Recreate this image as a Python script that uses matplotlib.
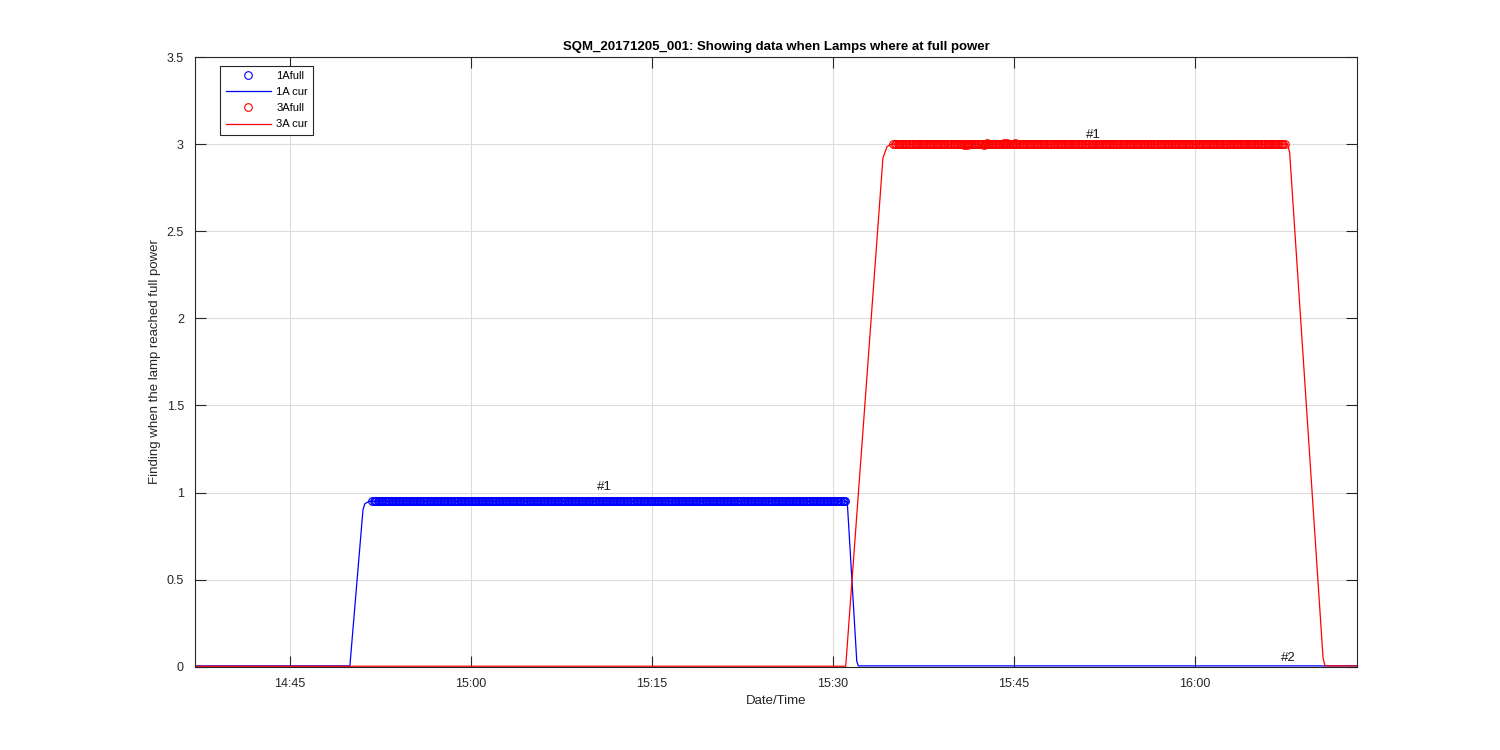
"""Lamp full-power check for SQM_20171205_001, redrawn in matplotlib."""
import numpy as np
import pandas as pd
import matplotlib
matplotlib.use('Agg')
import matplotlib.pyplot as plt
import matplotlib.dates as mdates

plt.rcParams['font.family'] = ['Liberation Sans', 'DejaVu Sans']

day = '2017-12-05 '

# 1A lamp current (breakpoints)
cur1_times = ['14:36:00', '14:49:58', '14:51:03', '14:51:12', '14:51:30', '14:51:40',
              '15:31:06', '15:31:12', '15:31:58', '15:32:06', '16:15:00']
cur1_vals = [0.005, 0.005, 0.90, 0.935, 0.948, 0.95,
             0.95, 0.92, 0.03, 0.005, 0.005]

# 3A lamp current
cur3_times = ['14:36:00', '15:31:03', '15:34:08', '15:34:28', '15:34:45', '15:34:55',
              '16:07:40', '16:07:50', '16:10:36', '16:10:46', '16:15:00']
cur3_vals = [0.003, 0.003, 2.92, 2.985, 2.998, 3.0,
             3.0, 2.95, 0.05, 0.005, 0.005]

# full-power samples: start, end, logger interval, level
full1_start, full1_end, full1_level = '14:51:49', '15:31:05', 0.95
full3_start, full3_end, full3_level = '15:35:00', '16:07:32', 3.0
sample_step = '7s'

# a few 3A samples that wander off the plateau
full3_odd_times = ['15:40:50', '15:41:05', '15:42:30', '15:42:45', '15:44:10', '15:44:25', '15:45:05']
full3_odd_vals = [2.993, 2.996, 2.994, 3.006, 3.004, 3.008, 3.005]

# annotations
labels = ['#1', '#1', '#2']
label_times = ['15:10:26', '15:50:55', '16:07:05']
label_vals = [1.03, 3.05, 0.05]


def to_dt(times):
    return pd.to_datetime([day + t for t in times])


full1_t = pd.date_range(day + full1_start, day + full1_end, freq=sample_step)
full3_t = pd.date_range(day + full3_start, day + full3_end, freq=sample_step)

fig = plt.figure(figsize=(15, 7.5), dpi=100)
ax = fig.add_axes([0.13, 0.111, 0.7747, 0.813])

mk = dict(ls='none', marker='o', mfc='none', ms=5.5, mew=0.8)
ax.plot(full1_t, np.full(len(full1_t), full1_level), mec='b', label='1Afull', **mk)
ax.plot(to_dt(cur1_times), cur1_vals, 'b-', lw=0.9, label='1A cur')
ax.plot(full3_t, np.full(len(full3_t), full3_level), mec='r', label='3Afull', **mk)
ax.plot(to_dt(full3_odd_times), full3_odd_vals, mec='r', **mk)
ax.plot(to_dt(cur3_times), cur3_vals, 'r-', lw=0.9, label='3A cur')

for txt, t, v in zip(labels, to_dt(label_times), label_vals):
    ax.text(t, v, txt, fontsize=9.5, ha='left', va='center', color='#1a1a1a')

ax.set_xlim(pd.Timestamp(day + '14:37:08'), pd.Timestamp(day + '16:13:25'))
ax.set_ylim(0, 3.5)
ax.set_yticks(np.arange(0, 3.51, 0.5))
ax.set_yticklabels(['0', '0.5', '1', '1.5', '2', '2.5', '3', '3.5'])
ax.xaxis.set_major_locator(mdates.MinuteLocator(byminute=[0, 15, 30, 45]))
ax.xaxis.set_major_formatter(mdates.DateFormatter('%H:%M'))

ax.grid(True, color='#dcdcdc', lw=0.8)
ax.set_axisbelow(True)
ax.tick_params(direction='in', length=8, width=0.8, top=True, right=True,
               labelsize=9, colors='#262626', pad=8)
for s in ax.spines.values():
    s.set_color('#262626')
    s.set_linewidth(0.8)

ax.set_title('SQM_20171205_001: Showing data when Lamps where at full power',
             fontsize=9.5, fontweight='bold', color='black', pad=5)
ax.set_xlabel('Date/Time', fontsize=9.5, color='#262626')
ax.set_ylabel('Finding when the lamp reached full power', fontsize=9.5, color='#262626')

leg = ax.legend(loc='upper left', bbox_to_anchor=(0.0215, 0.986), fontsize=8,
                fancybox=False, edgecolor='#262626', framealpha=1,
                handlelength=4.1, handletextpad=0.45, borderpad=0.5,
                labelspacing=0.55, borderaxespad=0)
leg.get_frame().set_linewidth(0.8)

fig.savefig('out.png', dpi=100, facecolor='white')
